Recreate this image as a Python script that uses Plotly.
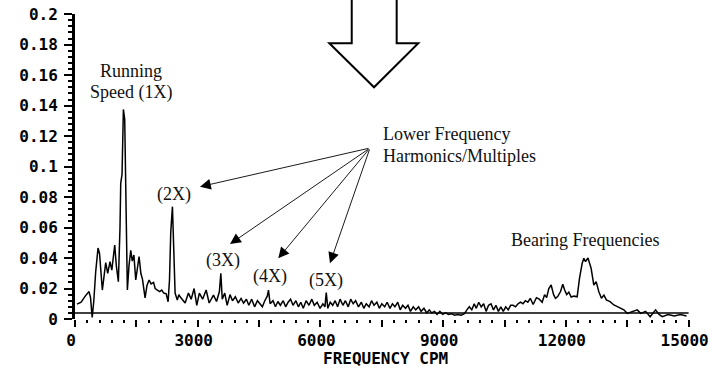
import plotly.graph_objects as go

# ---- data ----
freq_cpm = [
    50, 150, 250, 343, 380, 420, 460, 506, 563, 600, 668, 710, 751, 800, 856, 900, 940, 971,
    1010, 1060, 1100, 1118, 1150, 1183, 1215, 1245, 1280, 1320, 1363, 1400, 1440, 1485, 1530,
    1566, 1610, 1650, 1713, 1760, 1811, 1860, 1920, 1960, 2014, 2070, 2120, 2170, 2230, 2276,
    2310, 2341, 2382, 2410, 2447, 2500, 2540, 2570, 2620, 2692, 2773, 2840, 2912, 2977, 3040,
    3120, 3206, 3280, 3385, 3460, 3530, 3565, 3600, 3660, 3720, 3790, 3850, 3920, 3990, 4060,
    4120, 4190, 4250, 4320, 4390, 4460, 4520, 4580, 4640, 4700, 4730, 4770, 4840, 4900, 4960,
    5020, 5090, 5150, 5210, 5270, 5330, 5400, 5460, 5520, 5580, 5650, 5720, 5790, 5850, 5920,
    5990, 6060, 6110, 6142, 6180, 6240, 6300, 6360, 6420, 6480, 6550, 6610, 6680, 6740, 6800,
    6860, 6930, 7000, 7060, 7120, 7190, 7250, 7310, 7380, 7440, 7500, 7570, 7630, 7700, 7760,
    7820, 7890, 7950, 8010, 8080, 8140, 8200, 8270, 8330, 8400, 8460, 8530, 8600, 8660, 8720,
    8790, 8850, 8920, 8990, 9060, 9130, 9200, 9280, 9360, 9440, 9520, 9580, 9640, 9700, 9760,
    9810, 9870, 9930, 9990, 10050, 10110, 10170, 10230, 10290, 10350, 10410, 10470, 10530,
    10590, 10650, 10710, 10770, 10830, 10890, 10950, 11010, 11070, 11130, 11200, 11280, 11350,
    11420, 11480, 11530, 11583, 11640, 11700, 11746, 11800, 11870, 11925, 11970, 12020, 12072,
    12130, 12200, 12276, 12333, 12398, 12440, 12480, 12540, 12618, 12683, 12740, 12806, 12870,
    12930, 12990, 13080, 13173, 13260, 13340, 13417, 13500, 13600, 13745, 13830, 13950, 14060,
    14193, 14280, 14356, 14500, 14650, 14800, 14950,
]
amplitude = [
    0.0098, 0.011, 0.015, 0.018, 0.014, 0.001, 0.012, 0.031, 0.0466, 0.043, 0.019, 0.028, 0.037,
    0.030, 0.0376, 0.032, 0.040, 0.0485, 0.035, 0.0245, 0.060, 0.089, 0.095, 0.1375, 0.131,
    0.078, 0.019, 0.035, 0.045, 0.038, 0.042, 0.0256, 0.035, 0.041, 0.030, 0.026, 0.0138,
    0.022, 0.0256, 0.023, 0.024, 0.020, 0.019, 0.018, 0.019, 0.017, 0.0165, 0.0113, 0.0256,
    0.057, 0.0737, 0.054, 0.017, 0.0125, 0.016, 0.0146, 0.013, 0.0105, 0.017, 0.013, 0.020,
    0.009, 0.017, 0.013, 0.019, 0.0105, 0.0157, 0.0115, 0.018, 0.030, 0.013, 0.017, 0.009,
    0.016, 0.012, 0.0146, 0.0105, 0.0135, 0.0105, 0.013, 0.009, 0.013, 0.008, 0.012, 0.010,
    0.008, 0.012, 0.015, 0.019, 0.010, 0.012, 0.008, 0.0115, 0.009, 0.012, 0.008, 0.011,
    0.013, 0.009, 0.012, 0.008, 0.011, 0.007, 0.012, 0.009, 0.013, 0.009, 0.011, 0.007,
    0.010, 0.008, 0.0173, 0.007, 0.011, 0.009, 0.012, 0.008, 0.013, 0.009, 0.012, 0.008,
    0.013, 0.010, 0.012, 0.008, 0.011, 0.007, 0.010, 0.008, 0.012, 0.009, 0.011, 0.007,
    0.010, 0.008, 0.011, 0.007, 0.010, 0.008, 0.011, 0.006, 0.009, 0.007, 0.009, 0.005,
    0.008, 0.006, 0.008, 0.005, 0.007, 0.004, 0.006, 0.004, 0.005, 0.003, 0.005, 0.003,
    0.004, 0.003, 0.0035, 0.0025, 0.003, 0.0025, 0.0035, 0.006, 0.008, 0.006, 0.010, 0.007,
    0.011, 0.008, 0.010, 0.005, 0.009, 0.010, 0.006, 0.009, 0.005, 0.008, 0.005, 0.008,
    0.006, 0.009, 0.009, 0.008, 0.010, 0.011, 0.010, 0.012, 0.011, 0.0136, 0.0095, 0.014,
    0.013, 0.011, 0.016, 0.014, 0.020, 0.0223, 0.016, 0.0136, 0.0147, 0.018, 0.0228, 0.019,
    0.016, 0.0177, 0.0144, 0.015, 0.0146, 0.0267, 0.0365, 0.0398, 0.0376, 0.040, 0.0332,
    0.0223, 0.0245, 0.0179, 0.0136, 0.0157, 0.0125, 0.0114, 0.0092, 0.0081, 0.007, 0.006,
    0.0037, 0.0048, 0.006, 0.0037, 0.005, 0.0015, 0.006, 0.003, 0.0015, 0.003, 0.002, 0.003,
    0.002,
]
baseline_level = 0.004
x_major_ticks = [0, 1500, 3000, 4500, 6000, 7500, 9000, 10500, 12000, 13500, 15000]
x_tick_labels = ["0", "", "3000", "", "6000", "", "9000", "", "12000", "", "15000"]

# ---- geometry helpers (pixel -> paper) ----
W, H = 712, 371
ML, MR, MT, MB = 75, 23, 14, 52
PW, PH = W - ML - MR, H - MT - MB


def px(xp):
    return (xp - ML) / PW


def py(yp):
    return (H - MB - yp) / PH


mono = dict(family="DejaVu Sans Mono", size=16, color="black", weight="bold")
serif = dict(family="Liberation Serif", size=18, color="#111111")

fig = go.Figure()
fig.add_trace(go.Scatter(x=freq_cpm, y=amplitude, mode="lines",
                         line=dict(color="black", width=1.5), showlegend=False,
                         hoverinfo="skip"))

fig.update_layout(
    width=W, height=H,
    margin=dict(l=ML, r=MR, t=MT, b=MB, pad=0, autoexpand=False),
    paper_bgcolor="white", plot_bgcolor="white",
    xaxis=dict(range=[0, 15010], showgrid=False, zeroline=False, showline=False,
               automargin=False, ticklabeloverflow="allow", ticklabelshift=-4,
               tickmode="array", tickvals=x_major_ticks, ticktext=x_tick_labels,
               ticks="outside", ticklen=7, tickwidth=2, tickcolor="black",
               tickfont=mono,
               minor=dict(tick0=0, dtick=300, ticks="outside", ticklen=3,
                          tickwidth=1.5, tickcolor="black", showgrid=False)),
    yaxis=dict(range=[0, 0.2001], showgrid=False, zeroline=False, showline=True,
               automargin=False, ticklabeloverflow="allow",
               linecolor="black", linewidth=3, dtick=0.02, tick0=0,
               ticks="outside", ticklen=8, tickwidth=2, tickcolor="black",
               tickfont=mono, ticklabelstandoff=3,
               minor=dict(dtick=0.004, ticks="outside", ticklen=4, tickwidth=2,
                          tickcolor="black", showgrid=False)),
)

# baseline line
fig.add_shape(type="line", xref="x", yref="y", x0=0, x1=15000,
              y0=baseline_level, y1=baseline_level,
              line=dict(color="black", width=1.5))

# big hollow arrow
pts = [(351.7, -5), (351.7, 43.3), (329.3, 43.3), (374, 87.3), (418.3, 43.3),
       (396.7, 43.3), (396.7, -5)]
path = "M " + " L ".join(f"{px(a):.4f},{py(b):.4f}" for a, b in pts) + " Z"
fig.add_shape(type="path", xref="paper", yref="paper", path=path,
              line=dict(color="black", width=2), fillcolor="white", layer="above")

# x axis title
fig.add_annotation(x=px(385), y=py(358), xref="paper", yref="paper",
                   text="FREQUENCY CPM", showarrow=False, font=mono,
                   xanchor="center", yanchor="middle")

labels = [
    ("Running", 131, 71, "center"),
    ("Speed (1X)", 131, 92, "center"),
    ("(2X)", 173.7, 195, "center"),
    ("(3X)", 223, 260, "center"),
    ("(4X)", 270, 276, "center"),
    ("(5X)", 325.5, 280.5, "center"),
    ("Lower Frequency", 381, 134, "left"),
    ("Harmonics/Multiples", 381, 156, "left"),
    ("Bearing Frequencies", 584.5, 240, "center"),
]
for t, x, y, anc in labels:
    fig.add_annotation(x=px(x), y=py(y), xref="paper", yref="paper", text=t,
                       showarrow=False, font=serif, xanchor=anc, yanchor="middle")

tail = (370, 148)
tips = [(200, 186.7), (230, 244), (278.3, 258.3), (330, 263.3)]
for tx, ty in tips:
    fig.add_annotation(x=px(tx), y=py(ty), xref="paper", yref="paper", text="",
                       showarrow=True, axref="pixel", ayref="pixel",
                       ax=tail[0] - tx, ay=tail[1] - ty,
                       arrowhead=2, arrowsize=2.4, arrowwidth=0.9,
                       arrowcolor="black", standoff=0, startstandoff=0)

fig.write_html(
    "out.html",
    config={"displayModeBar": False},
    post_script="document.body.style.margin='0';document.body.style.overflow='hidden';",
)
